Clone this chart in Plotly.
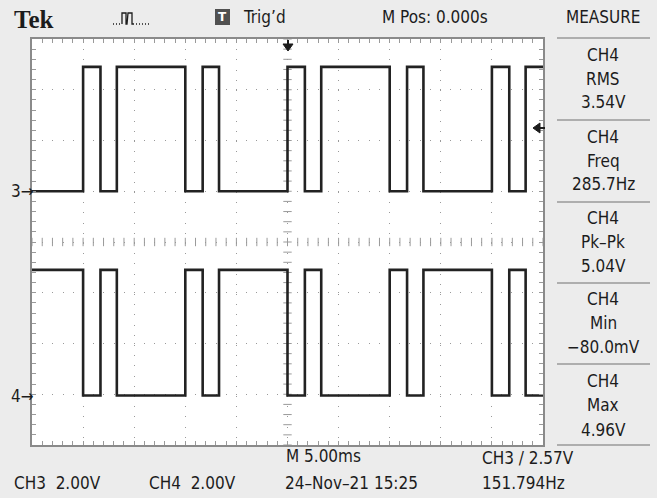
import numpy as np
import plotly.graph_objects as go

# ---- data (time in ms, volts) ----
t_edges = [-25.0, -20.0, -18.3, -16.7, -10.0, -8.3, -6.7, 0.0, 1.7, 3.3, 10.0, 11.7, 13.3, 20.0, 21.7, 23.3, 25.0]
ch3_levels = [0.0, 4.9, 0.0, 4.9, 0.0, 4.9, 0.0, 4.9, 0.0, 4.9, 0.0, 4.9, 0.0, 4.9, 0.0, 4.9, 4.9]
ch4_levels = [4.9, -0.05, 4.9, -0.05, 4.9, -0.05, 4.9, -0.05, 4.9, -0.05, 4.9, -0.05, 4.9, -0.05, 4.9, -0.05, -0.05]

measure_titles = ["RMS", "Freq", "Pk\u2013Pk", "Min", "Max"]
measure_values = ["3.54V", "285.7Hz", "5.04V", "\u221280.0mV", "4.96V"]

W, H = 657, 498
L, R, T, B = 32, 543, 39, 445
FONT = "DejaVu Sans Condensed, Liberation Sans Narrow, Arial Narrow, DejaVu Sans, sans-serif"
TXT = "#1c1c1c"
GRID = "#9a9a9a"
FS = 17


def px(x):
    return (x - L) / (R - L)


def py(y):
    return (B - y) / (B - T)


fig = go.Figure()

# centre crosshair minor ticks
fig.add_trace(go.Scatter(x=np.arange(-25, 25.01, 1.0), y=np.zeros(51), mode="markers",
                         marker=dict(symbol="line-ns", size=6, line=dict(width=1, color=GRID)),
                         hoverinfo="skip", showlegend=False))
fig.add_trace(go.Scatter(x=np.zeros(41), y=np.arange(-4, 4.01, 0.2), mode="markers",
                         marker=dict(symbol="line-ew", size=6, line=dict(width=1, color=GRID)),
                         hoverinfo="skip", showlegend=False))

# waveforms
fig.add_trace(go.Scatter(x=t_edges, y=ch3_levels, yaxis="y2", mode="lines",
                         line=dict(shape="hv", color="#222222", width=2.6),
                         showlegend=False, name="CH3"))
fig.add_trace(go.Scatter(x=t_edges, y=ch4_levels, yaxis="y3", mode="lines",
                         line=dict(shape="hv", color="#222222", width=2.6),
                         showlegend=False, name="CH4"))

ann = []


def text(x, y, s, size=FS, xanchor="center", **kw):
    ann.append(dict(x=px(x), y=py(y), xref="paper", yref="paper", text=s, showarrow=False,
                    xanchor=xanchor, yanchor="middle",
                    font=dict(family=kw.pop("family", FONT), size=size, color=kw.pop("color", TXT)), **kw))


# header
text(12, 20, "<b>Tek</b>", size=25, xanchor="left", family="Liberation Serif, DejaVu Serif, serif")
text(241, 17, "Trig\u2019d", xanchor="left")
text(435, 17, "M Pos: 0.000s")
text(603, 17, "MEASURE")

# measure panel
ys = [(55, 79, 102), (137, 161, 184), (218, 242, 266), (299, 323, 347), (381, 405, 430)]
for (y1, y2, y3), ttl, val in zip(ys, measure_titles, measure_values):
    text(603, y1, "CH4")
    text(603, y2, ttl)
    text(603, y3, val)

# channel markers
text(9, 191, "3\u2192", size=17, xanchor="left")
text(9, 396, "4\u2192", size=17, xanchor="left")

# footer
text(284, 456, "M 5.00ms", xanchor="left")
text(480, 458, "CH3 / 2.57V", xanchor="left")
text(12, 483, "CH3  2.00V", xanchor="left")
text(147, 483, "CH4  2.00V", xanchor="left")
text(283, 483, "24\u2013Nov\u201321 15:25", xanchor="left")
text(480, 483, "151.794Hz", xanchor="left")

shapes = []
# T box
shapes.append(dict(type="rect", xref="paper", yref="paper", x0=px(215), x1=px(230), y0=py(25), y1=py(9),
                   fillcolor="#505050", line=dict(width=0), layer="below"))
ann.append(dict(x=px(222.5), y=py(17), xref="paper", yref="paper", text="<b>T</b>", showarrow=False,
                xanchor="center", yanchor="middle",
                font=dict(family="DejaVu Sans", size=12, color="white")))
# pulse icon: dotted baseline + double pulse
shapes.append(dict(type="line", xref="paper", yref="paper", x0=px(113), x1=px(122), y0=py(24), y1=py(24),
                   line=dict(color=TXT, width=1.3, dash="1px,2px")))
shapes.append(dict(type="line", xref="paper", yref="paper", x0=px(133), x1=px(150), y0=py(24), y1=py(24),
                   line=dict(color=TXT, width=1.3, dash="1px,2px")))
pts = [(122, 24), (122, 13), (126, 13), (126, 24), (127, 24), (128, 13), (132, 13), (132, 24), (133, 24)]
path = "M " + " L ".join(f"{px(a):.4f},{py(b):.4f}" for a, b in pts)
shapes.append(dict(type="path", xref="paper", yref="paper", path=path, line=dict(color=TXT, width=1.3)))
# trigger position arrow (top)
shapes.append(dict(type="path", xref="paper", yref="paper",
                   path=f"M {px(283):.4f},{py(44):.4f} L {px(293):.4f},{py(44):.4f} L {px(288):.4f},{py(51):.4f} Z",
                   fillcolor=TXT, line=dict(color=TXT, width=1)))
shapes.append(dict(type="line", xref="paper", yref="paper", x0=px(288), x1=px(288), y0=py(40), y1=py(46),
                   line=dict(color=TXT, width=2)))
# trigger level arrow (right)
shapes.append(dict(type="path", xref="paper", yref="paper",
                   path=f"M {px(533):.4f},{py(128):.4f} L {px(540):.4f},{py(123):.4f} L {px(540):.4f},{py(133):.4f} Z",
                   fillcolor=TXT, line=dict(color=TXT, width=1)))
shapes.append(dict(type="line", xref="paper", yref="paper", x0=px(538), x1=px(545), y0=py(128), y1=py(128),
                   line=dict(color=TXT, width=2)))
# measure separators
for yy in [38, 120, 202, 283, 364, 445]:
    shapes.append(dict(type="line", xref="paper", yref="paper", x0=px(557), x1=px(650), y0=py(yy), y1=py(yy),
                       line=dict(color="#9a9a9a", width=1.5)))

fig.update_layout(
    width=W, height=H,
    margin=dict(l=L, r=W - R, t=T, b=H - B),
    paper_bgcolor="#ececec", plot_bgcolor="white",
    annotations=ann, shapes=shapes,
    xaxis=dict(range=[-25, 25], dtick=5, showgrid=True, gridcolor=GRID, griddash="1px,9.2px", gridwidth=1.2,
               zeroline=False, showticklabels=False, ticks="inside", ticklen=4, tickcolor=GRID,
               minor=dict(dtick=1, ticks="inside", ticklen=4, tickcolor=GRID),
               showline=True, linecolor="#8a8a8a", linewidth=1.5, mirror="allticks", fixedrange=True),
    yaxis=dict(range=[-4, 4], dtick=1, showgrid=True, gridcolor=GRID, griddash="1px,9.2px", gridwidth=1.2,
               zeroline=False, showticklabels=False, ticks="inside", ticklen=4, tickcolor=GRID,
               minor=dict(dtick=0.2, ticks="inside", ticklen=4, tickcolor=GRID),
               showline=True, linecolor="#8a8a8a", linewidth=1.5, mirror="allticks", fixedrange=True),
    yaxis2=dict(range=[-10, 6], overlaying="y", visible=False, fixedrange=True),
    yaxis3=dict(range=[-2, 14], overlaying="y", visible=False, fixedrange=True),
)

fig.write_html("out.html")
